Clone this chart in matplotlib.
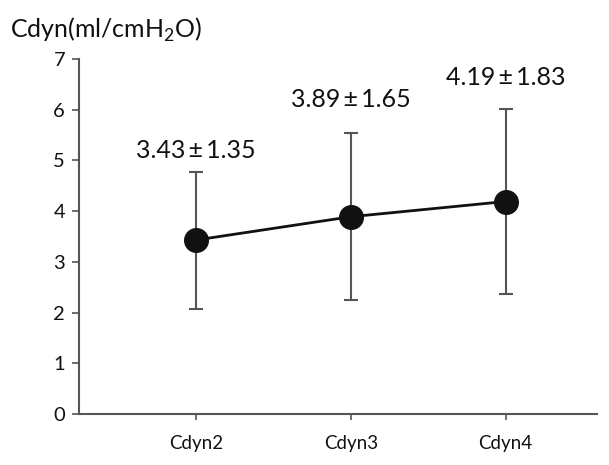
import matplotlib
matplotlib.use("Agg")
import matplotlib.pyplot as plt

categories = ["Cdyn2", "Cdyn3", "Cdyn4"]
means = [3.43, 3.89, 4.19]
sds = [1.35, 1.65, 1.83]
labels = ["3.43\u2009\u00b1\u20091.35", "3.89\u2009\u00b1\u20091.65", "4.19\u2009\u00b1\u20091.83"]
yticks = [0, 1, 2, 3, 4, 5, 6, 7]

plt.rcParams['font.family'] = ['Lato', 'DejaVu Sans']
plt.rcParams['mathtext.fontset'] = 'custom'
plt.rcParams['mathtext.rm'] = 'Lato'

fig = plt.figure(figsize=(6.09, 4.65), dpi=100)
ax = fig.add_axes([79/609, 1-414/465, (597-79)/609, (414-59)/465])

x = list(range(len(categories)))
ax.errorbar(x, means, yerr=sds, fmt='none', ecolor='#555555', elinewidth=1.5,
            capsize=5, capthick=1.5, zorder=2)
ax.plot(x, means, color='#111111', lw=2.0, marker='o', markersize=17,
        markerfacecolor='#111111', markeredgecolor='#111111', zorder=3)

offsets = [7, 16, 14]
for xi, m, s, lab, off in zip(x, means, sds, labels, offsets):
    ax.annotate(lab, (xi, m + s), xytext=(0, off), textcoords='offset points',
                ha='center', va='bottom', fontsize=18, color='#111111')

ax.set_xlim(-0.755, 2.59)
ax.set_ylim(0, 7)
ax.set_yticks(yticks)
ax.set_xticks(x)
ax.set_xticklabels(categories)
for sp in ['top', 'right']:
    ax.spines[sp].set_visible(False)
for sp in ['left', 'bottom']:
    ax.spines[sp].set_color('#555555')
    ax.spines[sp].set_linewidth(1.5)
ax.tick_params(axis='y', direction='out', length=5, width=1.2, color='#555555',
               labelsize=14.5, pad=5, labelcolor='#111111')
ax.tick_params(axis='x', direction='out', length=4, width=1.2, color='#555555',
               labelsize=13.5, pad=11, labelcolor='#111111')

fig.text(10/609, 1-30/465, r"Cdyn(ml/cmH$_\mathregular{2}$O)", fontsize=18,
         ha='left', va='center', color='#111111')

fig.savefig("out.png", dpi=100)
